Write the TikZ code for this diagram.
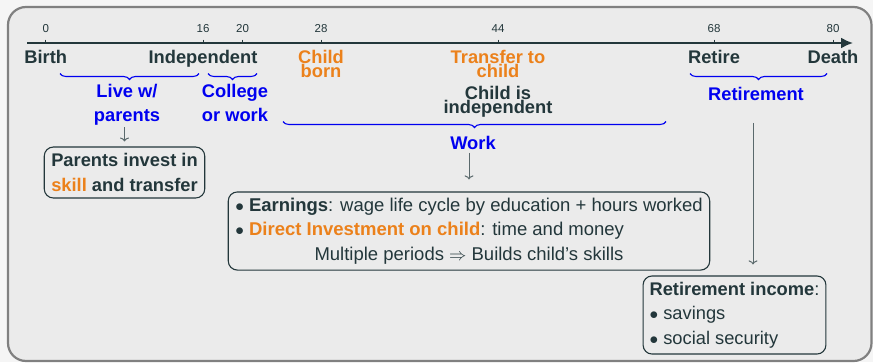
\documentclass[tikz,border=0pt]{standalone}
\usepackage{fontspec}
\setmainfont{Liberation Sans}
\usetikzlibrary{
  arrows.meta,
  positioning,
  decorations.pathreplacing
}
\definecolor{mdark}     {HTML}{23373B}
\definecolor{morange}   {HTML}{EB811B}
\definecolor{mblue}     {HTML}{0000F0}
\definecolor{framegray} {HTML}{808080}
\definecolor{framefill} {HTML}{EBEBEB}
\definecolor{pagebg}    {HTML}{F5F5F5}

\newcommand{\orng}[1]{\textcolor{morange}{#1}}

\begin{document}
\begin{tikzpicture}[
  x=1pt, y=-1pt,
  every node/.style={text=mdark, inner sep=0pt, font=\fontsize{18}{24.5}\selectfont},
  yearlab/.style={font=\fontsize{11.5}{13}\selectfont},
  event/.style={font=\fontsize{18.3}{14}\selectfont\bfseries, align=center, anchor=north},
  period/.style={font=\fontsize{18.3}{24}\selectfont\bfseries, text=mblue, align=center, anchor=north},
  periodbrace/.style={draw=mblue, line width=1.1pt, decorate,
    decoration={brace, mirror, amplitude=6pt}},
  box/.style={draw=mdark, line width=1.1pt, rounded corners=9pt,
    inner xsep=7pt, inner ysep=6.5pt},
  arr/.style={-{To[length=4pt,width=9pt]}, draw=mdark!75, line width=1pt},
]

% Frame
\path[use as bounding box, fill=pagebg] (0,0) rectangle (873,362);
\draw[framegray, fill=framefill, line width=2.2pt, rounded corners=18pt]
  (8,7) rectangle (871.5,361);

% Timeline
\coordinate (axisL) at (27,43);
\coordinate (axisR) at (853,43);
\draw[mdark, line width=2pt, -{Latex[length=12pt,width=11pt]}] (axisL) -- (axisR);
\foreach \x/\yr in {45.7/0, 203/16, 242.5/20, 321/28, 498/44, 714/68, 833/80} {
  \draw[mdark, line width=1pt] (\x,39.5) -- (\x,43);
  \node[yearlab] (y\yr) at (\x,29) {\yr};
}

% Events
\node[event] (birth) at (45.7,50.5) {Birth};
\node[event] (indep) at (203,50.5) {Independent};
\node[event, text=morange] (born) at (321,50.5) {Child\\born};
\node[event, text=morange] (transfer) at (498,50.5) {Transfer to\\child};
\node[event] (childind) at (498,86) {Child is\\independent};
\node[event] (retire) at (714,50.5) {Retire};
\node[event] (death) at (833,50.5) {Death};

% Periods
\coordinate (liveL) at (60,73.5);   \coordinate (liveR) at (199,73.5);
\coordinate (collL) at (208,73.5);  \coordinate (collR) at (257,73.5);
\coordinate (workL) at (283,121.5); \coordinate (workR) at (666,121.5);
\coordinate (retL)  at (690,73.5);  \coordinate (retR)  at (827,73.5);
\draw[periodbrace] (liveL) -- (liveR);
\draw[periodbrace] (collL) -- (collR);
\draw[periodbrace] (workL) -- (workR);
\draw[periodbrace] (retL) -- (retR);

\node[period] (livew) at (127,84) {Live w/\\parents};
\node[period] (college) at (235,84) {College\\or work};
\node[period] (work) at (473,136) {Work};
\node[period] (retirement) at (756,87) {Retirement};

% Boxes
\node[box, font=\fontsize{18.3}{24.5}\selectfont\bfseries, align=center]
  (parents) at (124.5,172.5) {Parents invest in\\\orng{skill} and transfer};

\node[box, font=\fontsize{18.5}{24.5}\selectfont, inner xsep=7pt, inner ysep=2.3pt]
  (earn) at (469,231) {%
  \begin{tabular}{@{}l@{}}
  $\bullet$ \textbf{Earnings}: wage life cycle by education + hours worked\\
  $\bullet$ \textbf{\orng{Direct Investment on child}}: time and money\\
  \multicolumn{1}{@{}c@{}}{Multiple periods $\Rightarrow$ Builds child’s skills}
  \end{tabular}};

\node[box, font=\fontsize{18.3}{24.5}\selectfont, align=left, inner xsep=6.5pt, inner ysep=6pt]
  (retbox) at (734.5,315)
  {\textbf{Retirement income}:\\$\bullet$ savings\\$\bullet$ social security};

% Arrows
\draw[arr, shorten <=2pt, shorten >=5pt] (livew.south -| parents.north) -- (parents.north);
\draw[arr, shorten <=3pt, shorten >=12pt] (work.south -| earn.north) -- (earn.north);
\draw[arr, shorten <=22pt, shorten >=11pt]
  ([xshift=-3pt]retirement.south) -- ([xshift=-3pt]retirement.south |- retbox.north);
\end{tikzpicture}
\end{document}
